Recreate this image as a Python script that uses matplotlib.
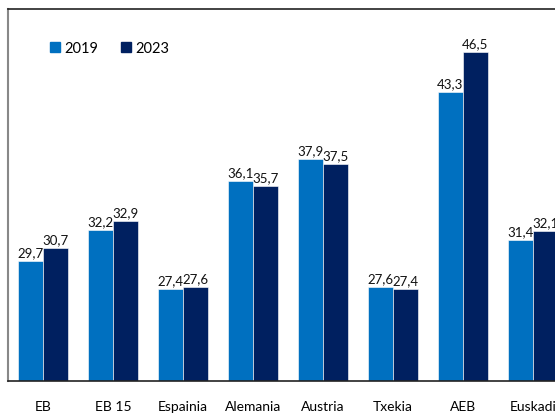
import matplotlib
matplotlib.use("Agg")
import matplotlib.pyplot as plt
import numpy as np
from matplotlib.patches import Patch

categories = ["EB", "EB 15", "Espainia", "Alemania", "Austria", "Txekia", "AEB", "Euskadi"]
values_2019 = [29.7, 32.2, 27.4, 36.1, 37.9, 27.6, 43.3, 31.4]
values_2023 = [30.7, 32.9, 27.6, 35.7, 37.5, 27.4, 46.5, 32.1]
series_names = ["2019", "2023"]

plt.rcParams['font.family'] = ['Lato', 'DejaVu Sans']
c1, c2 = "#0070C0", "#002060"

fig = plt.figure(figsize=(5.55, 4.14), dpi=100)
ax = fig.add_axes([8/555, 32/414, 560/555, 372/414])
x = np.arange(len(categories))
w = 25/70
b1 = ax.bar(x - w/2, values_2019, w, color=c1, edgecolor="white", linewidth=0.4, bottom=0)
b2 = ax.bar(x + w/2, values_2023, w, color=c2, edgecolor="white", linewidth=0.4)
ax.set_ylim(20, 50)
ax.set_xlim(-0.5, 7.5)
for bars, vals in ((b1, values_2019), (b2, values_2023)):
    for r, v in zip(bars, vals):
        ax.annotate(f"{v:.1f}".replace(".", ","), (r.get_x() + r.get_width()/2, v),
                    xytext=(0, 2), textcoords="offset points", ha="center", va="bottom",
                    fontsize=9.5, color="#111111")
ax.set_yticks([])
ax.set_xticks(x)
ax.set_xticklabels(categories, fontsize=10)
ax.tick_params(axis="x", length=0, pad=14)
ax.spines["left"].set_color("#888888")
ax.spines["left"].set_linewidth(1.5)
ax.spines["bottom"].set_color("#222222")
ax.spines["bottom"].set_linewidth(1.2)
ax.spines["top"].set_color("#222222")
ax.spines["top"].set_linewidth(1.2)
ax.spines["right"].set_visible(False)
handles = [Patch(color=c1), Patch(color=c2)]
ax.legend(handles, series_names, loc="upper left", bbox_to_anchor=(0.065, 0.93), frameon=False,
          ncol=2, fontsize=10.5, handlelength=0.7, handleheight=0.7, handletextpad=0.3,
          columnspacing=1.5, borderaxespad=0)
fig.savefig("out.png", dpi=100)
